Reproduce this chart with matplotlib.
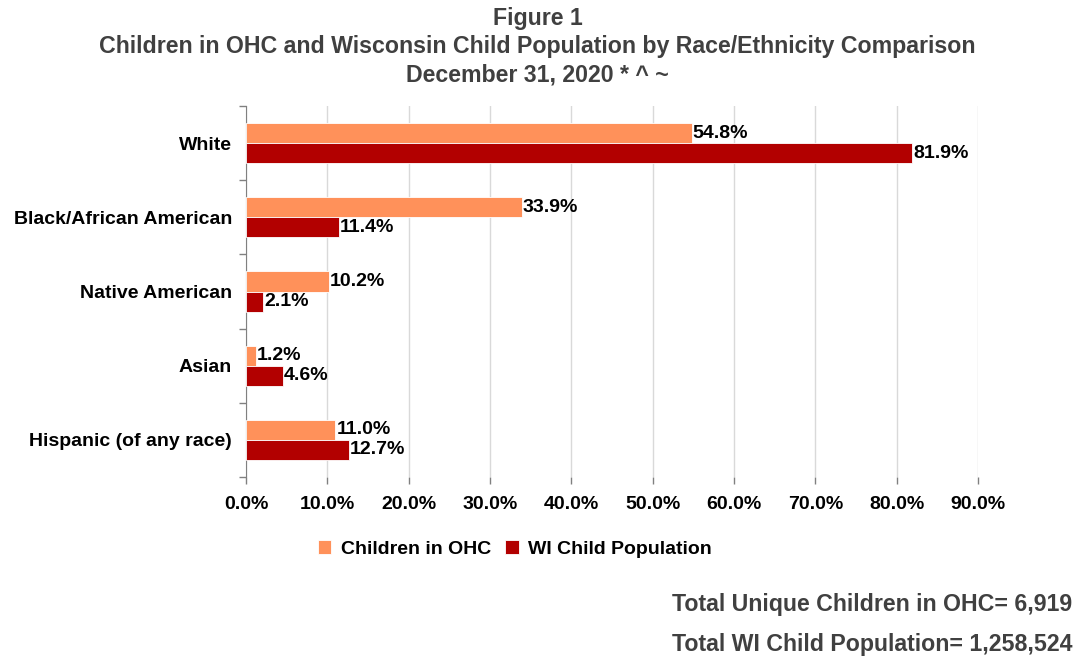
import matplotlib
matplotlib.use("Agg")
import matplotlib.pyplot as plt
import numpy as np

categories = ["White", "Black/African American", "Native American", "Asian", "Hispanic (of any race)"]
ohc = [54.8, 33.9, 10.2, 1.2, 11.0]
wi_pop = [81.9, 11.4, 2.1, 4.6, 12.7]
series_names = ["Children in OHC", "WI Child Population"]
xticks = [0, 10, 20, 30, 40, 50, 60, 70, 80, 90]

plt.rcParams['font.family'] = ['Liberation Sans', 'DejaVu Sans']
plt.rcParams['font.weight'] = 'bold'

c_ohc = "#FF915A"
c_wi = "#B20000"
fs = 14.0
fst = 16.7

fig = plt.figure(figsize=(10.75, 6.62), dpi=100)
ax = fig.add_axes([246/1075, 1-477/662, (978-246)/1075, (477-106)/662])

y = np.arange(len(categories))
h = 0.27
ax.barh(y - h/2, ohc, height=h, color=c_ohc, edgecolor="white", linewidth=0.6, label=series_names[0], zorder=3)
ax.barh(y + h/2, wi_pop, height=h, color=c_wi, edgecolor="white", linewidth=0.6, label=series_names[1], zorder=3)

for yi, v in zip(y, ohc):
    ax.text(v + 0.1, yi - h/2, f"{v:.1f}%", va="center", ha="left", fontsize=fs, fontweight="bold", color="black", zorder=4)
for yi, v in zip(y, wi_pop):
    ax.text(v + 0.1, yi + h/2, f"{v:.1f}%", va="center", ha="left", fontsize=fs, fontweight="bold", color="black", zorder=4)

ax.set_ylim(len(categories) - 0.5, -0.5)
ax.set_xlim(0, 90)
ax.set_xticks(xticks)
ax.set_xticklabels([f"{t:.1f}%" for t in xticks], fontsize=fs, fontweight="bold")
ax.set_yticks(y)
ax.set_yticklabels(categories, fontsize=fs, fontweight="bold")
ax.set_yticks(np.arange(len(categories) + 1) - 0.5, minor=True)
ax.tick_params(axis='y', which='major', length=0, pad=10)
ax.tick_params(axis='y', which='minor', length=5, color="#808080", width=1)
ax.tick_params(axis='x', which='major', length=5, color="#808080", width=1, pad=9)
ax.grid(axis='x', color="#D9D9D9", linewidth=1, zorder=0)
for s in ["top", "right", "bottom"]:
    ax.spines[s].set_visible(False)
ax.spines["left"].set_color("#808080")

fig.text(0.5, 1-18/662, "Figure 1", ha="center", va="center", fontsize=fst, fontweight="bold", color="#404040")
fig.text(0.5, 1-47/662, "Children in OHC and Wisconsin Child Population by Race/Ethnicity Comparison",
         ha="center", va="center", fontsize=fst, fontweight="bold", color="#404040")
fig.text(0.5, 1-75/662, "December 31, 2020 * ^ ~", ha="center", va="center", fontsize=fst, fontweight="bold", color="#404040")

leg = fig.legend(loc="center", bbox_to_anchor=(515/1075, 1-549/662), ncol=2, frameon=False,
                 fontsize=fs, handlelength=0.7, handleheight=0.7, handletextpad=0.5, columnspacing=0.7)

fig.text(1072/1075, 1-605/662, "Total Unique Children in OHC= 6,919", ha="right", va="center",
         fontsize=fst, fontweight="bold", color="#404040")
fig.text(1072/1075, 1-645/662, "Total WI Child Population= 1,258,524", ha="right", va="center",
         fontsize=fst, fontweight="bold", color="#404040")

fig.savefig("out.png", dpi=100)
